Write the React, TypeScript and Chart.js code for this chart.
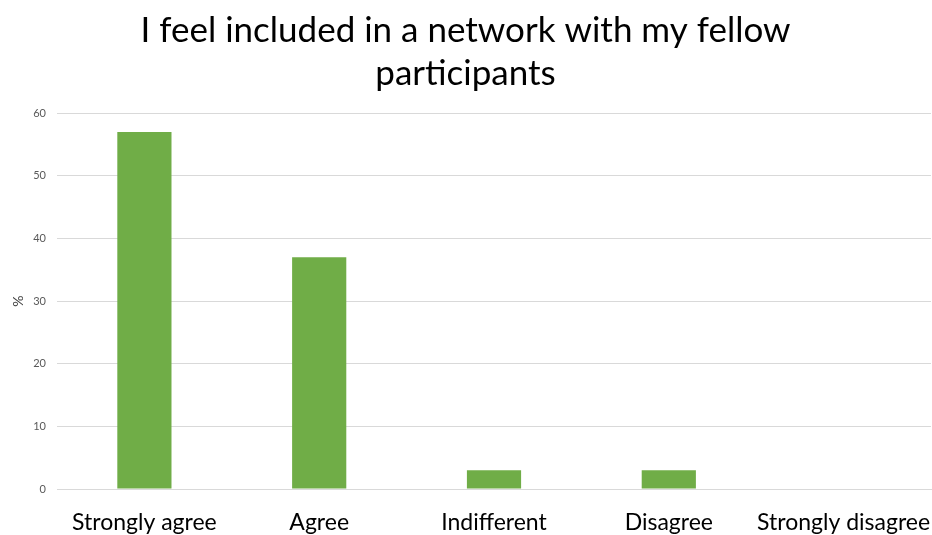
import React, { useEffect, useRef } from "react";
import { Chart, registerables } from "chart.js";

Chart.register(...registerables);

const categories = ["Strongly agree", "Agree", "Indifferent", "Disagree", "Strongly disagree"];
const percentages = [57, 37, 3, 3, 0];
const yTicks = [0, 10, 20, 30, 40, 50, 60];
const titleLines = ["I feel included in a network with my fellow", "participants"];

const FONT = "Lato, 'Open Sans', sans-serif";

export default function App() {
  const canvasRef = useRef<HTMLCanvasElement | null>(null);

  useEffect(() => {
    document.body.style.margin = "0";
    const canvas = canvasRef.current;
    if (!canvas) return;
    const chart = new Chart(canvas, {
      type: "bar",
      data: {
        labels: categories,
        datasets: [
          {
            data: percentages,
            backgroundColor: "#70AD47",
            borderWidth: 0,
            barPercentage: 0.62,
            categoryPercentage: 0.5,
          },
        ],
      },
      options: {
        animation: false,
        responsive: true,
        maintainAspectRatio: false,
        layout: { padding: { left: 0, right: 1, top: 0, bottom: 0 } },
        plugins: {
          legend: { display: false },
          tooltip: { enabled: false },
          title: {
            display: true,
            text: titleLines,
            color: "#000000",
            font: { family: FONT, size: 35, weight: "normal", lineHeight: 1.23 },
            padding: { top: 9, bottom: 18 },
          },
        },
        scales: {
          x: {
            grid: { display: false },
            border: { display: true, color: "#d9d9d9", width: 1 },
            ticks: {
              color: "#000000",
              font: { family: FONT, size: 23 },
              padding: 12,
              maxRotation: 0,
              autoSkip: false,
            },
            afterFit: (scale: any) => {
              scale.height = 46;
              scale.paddingLeft = 0;
              scale.paddingRight = 0;
            },
          },
          y: {
            min: 0,
            max: 60,
            afterBuildTicks: (scale: any) => {
              scale.ticks = yTicks.map((v) => ({ value: v }));
            },
            grid: { color: "#d9d9d9", lineWidth: 1, drawTicks: false },
            border: { display: false },
            ticks: {
              color: "#595959",
              font: { family: FONT, size: 11 },
              padding: 11,
            },
            title: {
              display: true,
              text: "%",
              color: "#404040",
              font: { family: FONT, size: 14 },
              padding: { top: 10, bottom: 0 },
            },
            afterFit: (scale: any) => {
              scale.width = 57;
              scale.paddingTop = 0;
              scale.paddingBottom = 0;
            },
          },
        },
      },
    });
    return () => chart.destroy();
  }, []);

  return (
    <div style={{ width: 932, height: 535, position: "relative" }}>
      <canvas ref={canvasRef} />
    </div>
  );
}
